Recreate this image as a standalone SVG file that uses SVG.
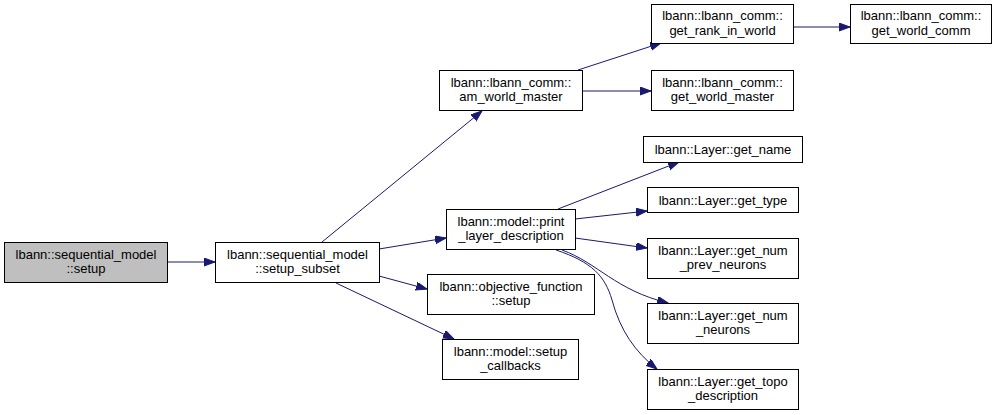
<svg xmlns="http://www.w3.org/2000/svg" width="1000" height="415" viewBox="0 0 1000 415">
<style>
.n rect{fill:#ffffff;stroke:#000000;stroke-width:1}
.n.g rect{fill:#bfbfbf}
.n text{font-family:"Liberation Sans",Arial,sans-serif;font-size:13px;text-anchor:middle;fill:#000000}
.e path{fill:none;stroke:#191970;stroke-width:1;marker-end:url(#ah)}
</style>
<defs>
<marker id="ah" markerUnits="userSpaceOnUse" markerWidth="12" markerHeight="9" refX="11" refY="4" orient="auto">
<path d="M0,0 L11,4 L0,8 z" fill="#191970" stroke="#191970" stroke-width="1"/>
</marker>
</defs>
<rect width="1000" height="415" fill="#ffffff"/>
<g id="edges" class="e">
<path d="M168,262 L215,262"/>
<path d="M322,242 L482,111"/>
<path d="M379,249 L446,238"/>
<path d="M379,276 L427,289"/>
<path d="M336,283 L454,339"/>
<path d="M578,70 L661,43"/>
<path d="M582,91 L651,91"/>
<path d="M794,27 L850,27"/>
<path d="M558,209 L679,162"/>
<path d="M575,219 L647,211"/>
<path d="M575,238 L647,248"/>
<path d="M562,250 C598,263 615,290 668,303"/>
<path d="M556,250 C592,262 605,276 612,300 C620,330 635,352 657,369"/>
</g>
<g id="node_setup" class="n g"><rect x="4.5" y="242.5" width="163" height="40"/><text x="86" y="258.5">lbann::sequential_model</text><text x="86" y="273">::setup</text></g>
<g id="node_setup_subset" class="n"><rect x="215.5" y="242.5" width="164" height="40"/><text x="297.5" y="258.5">lbann::sequential_model</text><text x="297.5" y="273">::setup_subset</text></g>
<g id="node_am_world_master" class="n"><rect x="439.5" y="70.5" width="143" height="40"/><text x="511" y="86.5">lbann::lbann_comm::</text><text x="511" y="101">am_world_master</text></g>
<g id="node_get_rank_in_world" class="n"><rect x="651.5" y="4.5" width="142" height="39"/><text x="722.5" y="20">lbann::lbann_comm::</text><text x="722.5" y="34.5">get_rank_in_world</text></g>
<g id="node_get_world_comm" class="n"><rect x="850.5" y="4.5" width="141" height="39"/><text x="921" y="20">lbann::lbann_comm::</text><text x="921" y="34.5">get_world_comm</text></g>
<g id="node_get_world_master" class="n"><rect x="651.5" y="70.5" width="142" height="40"/><text x="722.5" y="86.5">lbann::lbann_comm::</text><text x="722.5" y="101">get_world_master</text></g>
<g id="node_print_layer_description" class="n"><rect x="446.5" y="209.5" width="129" height="40"/><text x="511" y="225.5">lbann::model::print</text><text x="511" y="240">_layer_description</text></g>
<g id="node_get_name" class="n"><rect x="643.5" y="136.5" width="159" height="26"/><text x="723" y="154">lbann::Layer::get_name</text></g>
<g id="node_get_type" class="n"><rect x="647.5" y="187.5" width="151" height="25"/><text x="723" y="204.5">lbann::Layer::get_type</text></g>
<g id="node_get_num_prev_neurons" class="n"><rect x="647.5" y="238.5" width="151" height="40"/><text x="723" y="254.5">lbann::Layer::get_num</text><text x="723" y="269">_prev_neurons</text></g>
<g id="node_objective_setup" class="n"><rect x="427.5" y="274.5" width="167" height="40"/><text x="511" y="290.5">lbann::objective_function</text><text x="511" y="305">::setup</text></g>
<g id="node_get_num_neurons" class="n"><rect x="647.5" y="303.5" width="151" height="40"/><text x="723" y="319.5">lbann::Layer::get_num</text><text x="723" y="334">_neurons</text></g>
<g id="node_setup_callbacks" class="n"><rect x="442.5" y="339.5" width="136" height="40"/><text x="510.5" y="355.5">lbann::model::setup</text><text x="510.5" y="370">_callbacks</text></g>
<g id="node_get_topo_description" class="n"><rect x="647.5" y="369.5" width="151" height="40"/><text x="723" y="385.5">lbann::Layer::get_topo</text><text x="723" y="400">_description</text></g>
</svg>
